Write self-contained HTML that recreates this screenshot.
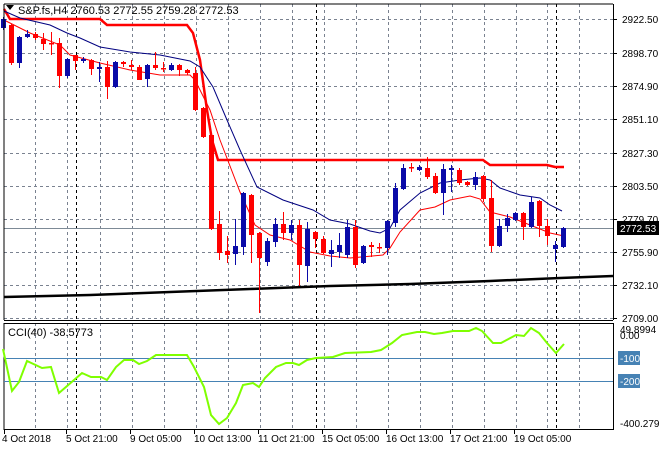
<!DOCTYPE html>
<html><head><meta charset="utf-8"><style>
body{margin:0;background:#fff;}
svg{display:block;font-family:"Liberation Sans",sans-serif;}
</style></head><body>
<svg id="s" width="660" height="450" viewBox="0 0 660 450" xmlns="http://www.w3.org/2000/svg">
<rect width="660" height="450" fill="#fff"/>
<g id="grid" stroke="#7a8290" stroke-width="1" stroke-dasharray="3,3" fill="none"></g>
<g id="vsep" stroke="#000" stroke-width="1" stroke-dasharray="3,3" fill="none"></g>
<line x1="4" y1="228.5" x2="613" y2="228.5" stroke="#7d8a96" stroke-width="1"/>
<polyline fill="none" stroke="#000" stroke-width="2.5" points="4,297 90,295 170,292 250,289 330,286 410,284 490,281 560,278 613,276"/>
<polyline fill="none" stroke="#ff0000" stroke-width="2.5" points="4,9 10,19 100,19 107,25 187,25 193,33 200,60 207,110 212,140 218,160 483,160 490,165 547,165 555,167 564,167"/>
<polyline fill="none" stroke="#000080" stroke-width="1" points="4,11 20,18 50,25 67,33 80,38 100,47 130,52 160,55 190,61 200,67 213,87 227,120 240,150 257,187 283,200 313,210 330,220 350,224 370,231 380,233 390,228 400,210 420,193 440,183 460,180 480,178 490,180 500,188 520,195 540,198 550,205 562,211"/>
<polyline fill="none" stroke="#ff0000" stroke-width="1" points="4,20 30,33 60,45 70,55 100,63 130,70 160,75 190,75 195,80 200,90 210,110 220,140 240,192 255,225 270,235 290,240 310,252 330,256 350,258 383,255 390,248 400,232 420,210 435,207 450,200 470,196 480,199 490,212 510,217 530,225 550,233 564,236"/>
<g id="candles"></g>
<line x1="4" y1="4" x2="4" y2="320" stroke="#000"/>
<line x1="613.5" y1="4" x2="613.5" y2="320" stroke="#000"/>
<line x1="4" y1="320.5" x2="613" y2="320.5" stroke="#000"/>
<line x1="4" y1="4" x2="613" y2="4" stroke="#000"/>
<line x1="4" y1="323.5" x2="613" y2="323.5" stroke="#000"/>
<line x1="4" y1="323" x2="4" y2="430" stroke="#000"/>
<line x1="613.5" y1="323" x2="613.5" y2="430" stroke="#000"/>
<line x1="4" y1="429.5" x2="613" y2="429.5" stroke="#000"/>
<line x1="4" y1="358.5" x2="613" y2="358.5" stroke="#4682b4"/>
<line x1="4" y1="381.5" x2="613" y2="381.5" stroke="#4682b4"/>
<polyline fill="none" stroke="#7fff00" stroke-width="2" points="3,349 12,391 19,382 27,361 42,368 51,367 59,393 74,380 82,373 91,377 101,377 107,380 116,367 124,360 133,360 139,364 147,361 156,355 168,355 187,355 194,367 204,387 211,415 219,424 227,418 236,403 243,385 253,383 259,387 265,378 276,367 286,363 293,363 299,365 307,360 316,358 333,357 345,353 371,352 381,350 392,343 402,335 417,332 425,332 434,334 442,333 453,331 469,331 476,328 482,331 493,343 501,343 516,335 524,336 531,328 539,333 547,343 556,353 564,344"/>
<g id="labels" font-size="10" fill="#000"></g>
<path d="M6,5 L14,5 L10,10 Z" fill="#000"/>
<text x="18" y="14" font-size="11">S&amp;P.fs,H4  2760.53 2772.55 2759.28 2772.53</text>
<text x="8" y="336" font-size="11">CCI(40) -38.5773</text>
<rect x="617" y="221" width="42" height="14" fill="#000"/>
<text x="620" y="232" font-size="10" fill="#fff">2772.53</text>
<rect x="618" y="351" width="22" height="14" fill="#4682b4"/>
<text x="620" y="362" font-size="10" fill="#fff">-100</text>
<rect x="618" y="374" width="22" height="14" fill="#4682b4"/>
<text x="620" y="385" font-size="10" fill="#fff">-200</text>
<text x="620" y="333" font-size="10">49.8994</text>
<text x="620" y="339" font-size="10">0.00</text>
<text x="620" y="427" font-size="10">-400.2792</text>
</svg>
<script>
var NS="http://www.w3.org/2000/svg";
function el(p,t,a){var e=document.createElementNS(NS,t);for(var k in a)e.setAttribute(k,a[k]);p.appendChild(e);return e;}
var g=document.getElementById('grid'),vs=document.getElementById('vsep');
var hy=[19,53,86,119,153,186,219,252,285,318];
hy.forEach(function(y){el(g,'line',{x1:4,y1:y+.5,x2:613,y2:y+.5});});
var vx=[35,67,100,132,164,196,228,260,292,324,356,388,420,452,484,516,547,579];
vx.forEach(function(x){el(g,'line',{x1:x+.5,y1:4,x2:x+.5,y2:320});el(g,'line',{x1:x+.5,y1:323,x2:x+.5,y2:430});});
[76,316,556].forEach(function(x){el(vs,'line',{x1:x+.5,y1:4,x2:x+.5,y2:320});el(vs,'line',{x1:x+.5,y1:323,x2:x+.5,y2:430});});
var L=document.getElementById('labels');
var pl=["2922.50","2898.70","2874.90","2851.10","2827.30","2803.50","2779.70","2755.90","2732.10","2709.00"];
hy.forEach(function(y,i){el(L,'line',{x1:613,y1:y+.5,x2:617,y2:y+.5,stroke:'#000'});var t=el(L,'text',{x:622,y:y+4});t.textContent=pl[i];});
var dl=[["4 Oct 2018",4],["5 Oct 21:00",66],["9 Oct 05:00",130],["10 Oct 13:00",194],["11 Oct 21:00",258],["15 Oct 05:00",322],["16 Oct 13:00",386],["17 Oct 21:00",450],["19 Oct 05:00",514]];
dl.forEach(function(d){var t=el(L,'text',{x:d[0]==="4 Oct 2018"?2:d[1],y:442,'font-size':10});t.textContent=d[0];el(L,'line',{x1:d[1]+.5,y1:430,x2:d[1]+.5,y2:434,stroke:'#000'});});
var C=[
[19,28,17,30,'b'],[25,63,24,65,'r'],[37,63,36,68,'b'],[34,37,30,38,'b'],[34,38,32,40,'r'],[39,44,33,50,'r'],[43,44,32,55,'r'],[43,76,38,88,'r'],[59,76,58,78,'b'],[55,61,55,70,'r'],
[59,61,57,63,'b'],[60,69,59,75,'r'],[67,69,62,82,'b'],[67,87,61,99,'r'],[62,87,61,88,'b'],[62,64,61,67,'r'],[65,67,60,70,'r'],[67,80,65,80,'r'],[65,79,64,87,'b'],[65,68,52,70,'r'],
[68,69,62,72,'r'],[65,70,63,71,'b'],[65,70,64,76,'r'],[70,73,69,75,'r'],[73,110,67,111,'r'],[108,137,107,138,'r'],[135,229,134,230,'r'],[224,253,211,260,'r'],[251,255,236,263,'r'],[246,254,219,265,'b'],
[193,247,192,255,'b'],[195,235,194,263,'r'],[233,258,232,313,'r'],[241,262,238,266,'b'],[224,242,218,247,'b'],[224,233,212,240,'r'],[225,233,220,240,'b'],[225,265,220,286,'r'],[229,266,222,282,'b'],[232,239,231,248,'r'],
[239,253,236,254,'r'],[250,254,240,267,'b'],[245,252,233,258,'b'],[227,255,220,258,'b'],[227,265,220,268,'r'],[246,263,245,264,'b'],[245,247,242,257,'r'],[247,248,243,253,'r'],[221,248,220,255,'b'],[188,223,183,227,'b'],
[168,189,164,190,'b'],[167,168,163,172,'r'],[167,170,165,171,'b'],[168,177,157,179,'r'],[176,193,173,194,'r'],[169,193,164,215,'b'],[168,170,165,192,'b'],[170,183,168,185,'r'],[182,185,181,186,'r'],[177,185,172,190,'b'],
[176,199,175,202,'r'],[198,246,180,252,'r'],[226,246,219,247,'b'],[218,226,214,232,'b'],[213,220,212,221,'b'],[213,227,212,240,'r'],[202,227,197,228,'b'],[201,226,200,237,'r'],[226,236,219,245,'r'],[245,249,241,262,'b'],
[228,247,227,248,'b']];
var cg=document.getElementById('candles');
C.forEach(function(c,i){var x=3+8*i;var col=c[4]=='r'?'#ff0000':'#0a0aa8';
el(cg,'line',{x1:x+.5,y1:c[2],x2:x+.5,y2:c[3],stroke:col,'stroke-width':1});
var h=Math.max(c[1]-c[0],1.5);el(cg,'rect',{x:x-2,y:c[0],width:5,height:h,fill:col});});
</script>
</body></html>
